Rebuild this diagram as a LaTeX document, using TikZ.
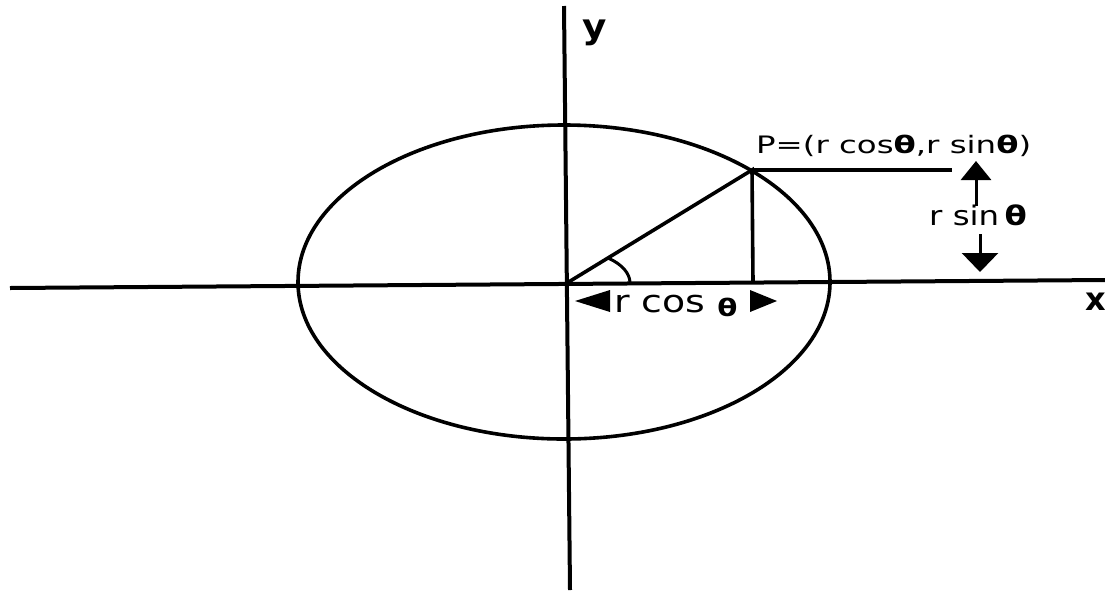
\documentclass[tikz,border=0pt]{standalone}
\usepackage{fontspec}
\usepackage{graphicx}
\setmainfont{DejaVu Sans}
\usetikzlibrary{arrows.meta}
\newcommand{\bth}{\textbf{θ}}
\newcommand{\wide}[2]{\scalebox{#1}[1]{#2}}
\begin{document}
\begin{tikzpicture}[x=1pt,y=-1pt,
  axis/.style={line width=4pt},
  curve/.style={line width=3.6pt},
  lbl/.style={inner sep=0pt},
  tri/.style={fill=black}]
\useasboundingbox (0,0) rectangle (1105,590);
% axes
\coordinate (xl) at (10,288);
\coordinate (xr) at (1105,280);
\coordinate (yt) at (564,6);
\coordinate (yb) at (570,590);
\draw[axis] (xl) -- (xr);
\draw[axis] (yt) -- (yb);
\node[lbl,font=\fontsize{34}{36}\bfseries] (ylab) at (595,33) {\wide{1.1}{y}};
\node[lbl,font=\fontsize{32}{34}\bfseries] (xlab) at (1096,302) {\wide{1.0}{x}};
% ellipse
\draw[curve] (564,282) ellipse [x radius=266, y radius=157];
% triangle
\coordinate (O) at (567,283);
\coordinate (P) at (752,170);
\coordinate (F) at (753,282);
\coordinate (E) at (952,170);
\draw[curve] (O) -- (P) -- (F);
\draw[line width=3.3pt] (P) -- (E);
\draw[line width=3pt] (630,283) arc[start angle=0,end angle=-49.4,x radius=63,y radius=33];
% labels
\node[lbl,anchor=base west,font=\fontsize{24}{26}\selectfont] (plab) at (756,153) {\wide{1.35}{P=(r cos\bth,r sin\bth)}};
\node[lbl,anchor=base,font=\fontsize{27}{30}\selectfont] (rsin) at (978,225) {\wide{1.2}{r sin\,\bth}};
\coordinate (ua) at (976,206);
\coordinate (ut) at (976,161);
\coordinate (da) at (980,234);
\coordinate (dt) at (980,272);
\draw[line width=3pt,-{Triangle[width=30pt,length=19pt]}] (ua) -- (ut);
\draw[line width=3pt,-{Triangle[width=36pt,length=19pt]}] (da) -- (dt);
\node[lbl,anchor=base west,font=\fontsize{31}{34}\selectfont] (rcos) at (614,312) {\wide{1.22}{r cos \raisebox{-4pt}{\fontsize{24}{26}\selectfont\bth}}};
\fill[tri] (575,301) -- (610,290) -- (610,312) -- cycle;
\fill[tri] (777,301) -- (750,290) -- (750,312) -- cycle;
\end{tikzpicture}
\end{document}
